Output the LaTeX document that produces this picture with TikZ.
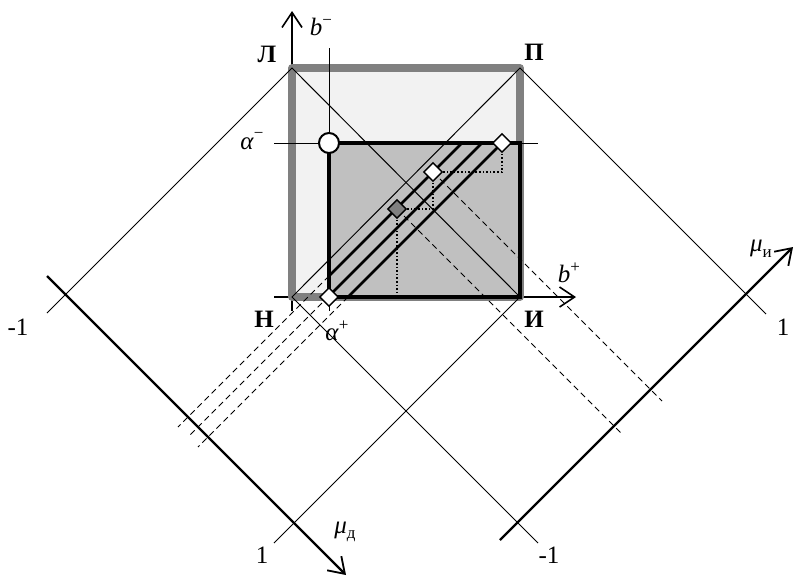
\documentclass[tikz,border=0pt]{standalone}
\usepackage{fontspec}
\setmainfont{Liberation Serif}
\usetikzlibrary{arrows.meta,shapes.geometric}
\definecolor{lightfill}{HTML}{F2F2F2}
\definecolor{darkfill}{HTML}{C0C0C0}
\definecolor{greyedge}{HTML}{808080}
\newcommand{\mysup}[1]{\raisebox{0.42em}{\fontsize{17}{17}\selectfont #1}}
\newcommand{\mysub}[1]{\raisebox{-0.22em}{\fontsize{17}{17}\selectfont #1}}
\begin{document}
\begin{tikzpicture}[x=1pt,y=-1pt,
  thinline/.style={line width=1pt},
  axisline/.style={line width=1.6pt,-{Straight Barb[length=15pt,width=20pt,line width=1.6pt]}},
  muaxis/.style={line width=2.2pt,-{Straight Barb[length=15pt,width=20pt,line width=1.8pt]}},
  thickline/.style={line width=2.6pt},
  dashline/.style={line width=1pt,dash pattern=on 6pt off 4pt},
  dotline/.style={line width=1.8pt,dash pattern=on 1.6pt off 2pt},
  dia/.style={diamond,draw,line width=1.4pt,fill=white,minimum width=19pt,minimum height=19pt,inner sep=0pt},
  lbl/.style={inner sep=0pt,font=\fontsize{25}{25}\selectfont},
]
\useasboundingbox (0,0) rectangle (796,576);
% corner points
\coordinate (L) at (292,68);
\coordinate (P) at (520,68);
\coordinate (N) at (292,297);
\coordinate (I) at (520,297);
\coordinate (A) at (329,143);
% axes ends
\coordinate (bmS) at (292,311);
\coordinate (bmE) at (292,11);
\coordinate (bpS) at (274,297);
\coordinate (bpE) at (576,297);
\coordinate (amS) at (274,143);
\coordinate (amE) at (538,143);
\coordinate (apS) at (329,48);
\coordinate (apE) at (329,311);
\coordinate (mdS) at (47,276);
\coordinate (mdE) at (346,575);
\coordinate (miS) at (500,540);
\coordinate (miE) at (793,247);
% tilted square ends
\coordinate (n1) at (47,313);
\coordinate (s1) at (766,314);
\coordinate (n3) at (274,543);
\coordinate (s3) at (538,543);
% thick lines ends
\coordinate (t1a) at (329,276);
\coordinate (t1b) at (462,143);
\coordinate (t2a) at (329,296);
\coordinate (t2b) at (482,143);
\coordinate (t3a) at (348,297);
\coordinate (t3b) at (502,143);
\coordinate (e1) at (178,427);
\coordinate (e2) at (188,437);
\coordinate (e3) at (198,447);
\coordinate (f3) at (662,401);
\coordinate (f4) at (623,435);
% diamond positions
\coordinate (pD1) at (329,297);
\coordinate (pD2) at (502,143);
\coordinate (pD3) at (433,172);
\coordinate (pD4) at (397,209);
\coordinate (k1) at (502,172);
\coordinate (k2) at (433,209);
\coordinate (k3) at (397,297);

% b axes (under the grey frame)
\draw[axisline] (bmS) -- (bmE);
\draw[axisline] (bpS) -- (bpE);
% light rectangle with grey frame
\draw[greyedge,line width=7.5pt,line join=round,fill=lightfill] (L) rectangle (I);
% dark rectangle fill
\fill[darkfill] (A) rectangle (I);
% alpha lines
\draw[thinline] (amS) -- (amE);
\draw[thinline] (apS) -- (apE);
% tilted square
\draw[thinline] (n1) -- (L) -- (I) -- (n3);
\draw[thinline] (s3) -- (N) -- (P) -- (s1);
% mu axes
\draw[muaxis] (mdS) -- (mdE);
\draw[muaxis] (miS) -- (miE);
% dark rect border
\draw[line width=4pt] (A) rectangle (I);
% thick parallel lines
\draw[thickline] (t1a) -- (t1b);
\draw[thickline] (t2a) -- (t2b);
\draw[thickline] (t3a) -- (t3b);
% dashed projections
\draw[dashline] (t1a) -- (e1);
\draw[dashline] (t2a) -- (e2);
\draw[dashline] (t3a) -- (e3);
\draw[dashline] (pD3) -- (f3);
\draw[dashline] (pD4) -- (f4);
% dotted guides
\draw[dotline] (pD2) -- (k1) -- (pD3);
\draw[dotline] (pD3) -- (k2) -- (pD4);
\draw[dotline] (pD4) -- (k3);
% markers
\node[circle,draw,line width=2pt,fill=white,minimum size=20pt,inner sep=0pt] (C) at (A) {};
\node[dia] (D1) at (pD1) {};
\node[dia] (D2) at (pD2) {};
\node[dia] (D3) at (pD3) {};
\node[dia,fill=greyedge] (D4) at (pD4) {};
% labels
\node[lbl] (lL) at (267,54) {\textbf{Л}};
\node[lbl] (lP) at (534,52) {\textbf{П}};
\node[lbl] (lN) at (264,319) {\textbf{Н}};
\node[lbl] (lI) at (534,319) {\textbf{И}};
\node[lbl] (lbm) at (321,27) {\textit{b}\mysup{−}};
\node[lbl] (lbp) at (569,273) {\textit{b}\mysup{+}};
\node[lbl] (lam) at (252,141) {\textit{α}\mysup{−}};
\node[lbl] (lap) at (337,331) {\textit{α}\mysup{+}};
\node[lbl] (lmi) at (761,249) {\textit{μ}\mysub{и}};
\node[lbl] (lmd) at (345,532) {\textit{μ}\mysub{д}};
\node[lbl] (n1l) at (18,327) {-1};
\node[lbl] (n2l) at (783,327) {1};
\node[lbl] (n3l) at (262,555) {1};
\node[lbl] (n4l) at (549,555) {-1};
\end{tikzpicture}
\end{document}
